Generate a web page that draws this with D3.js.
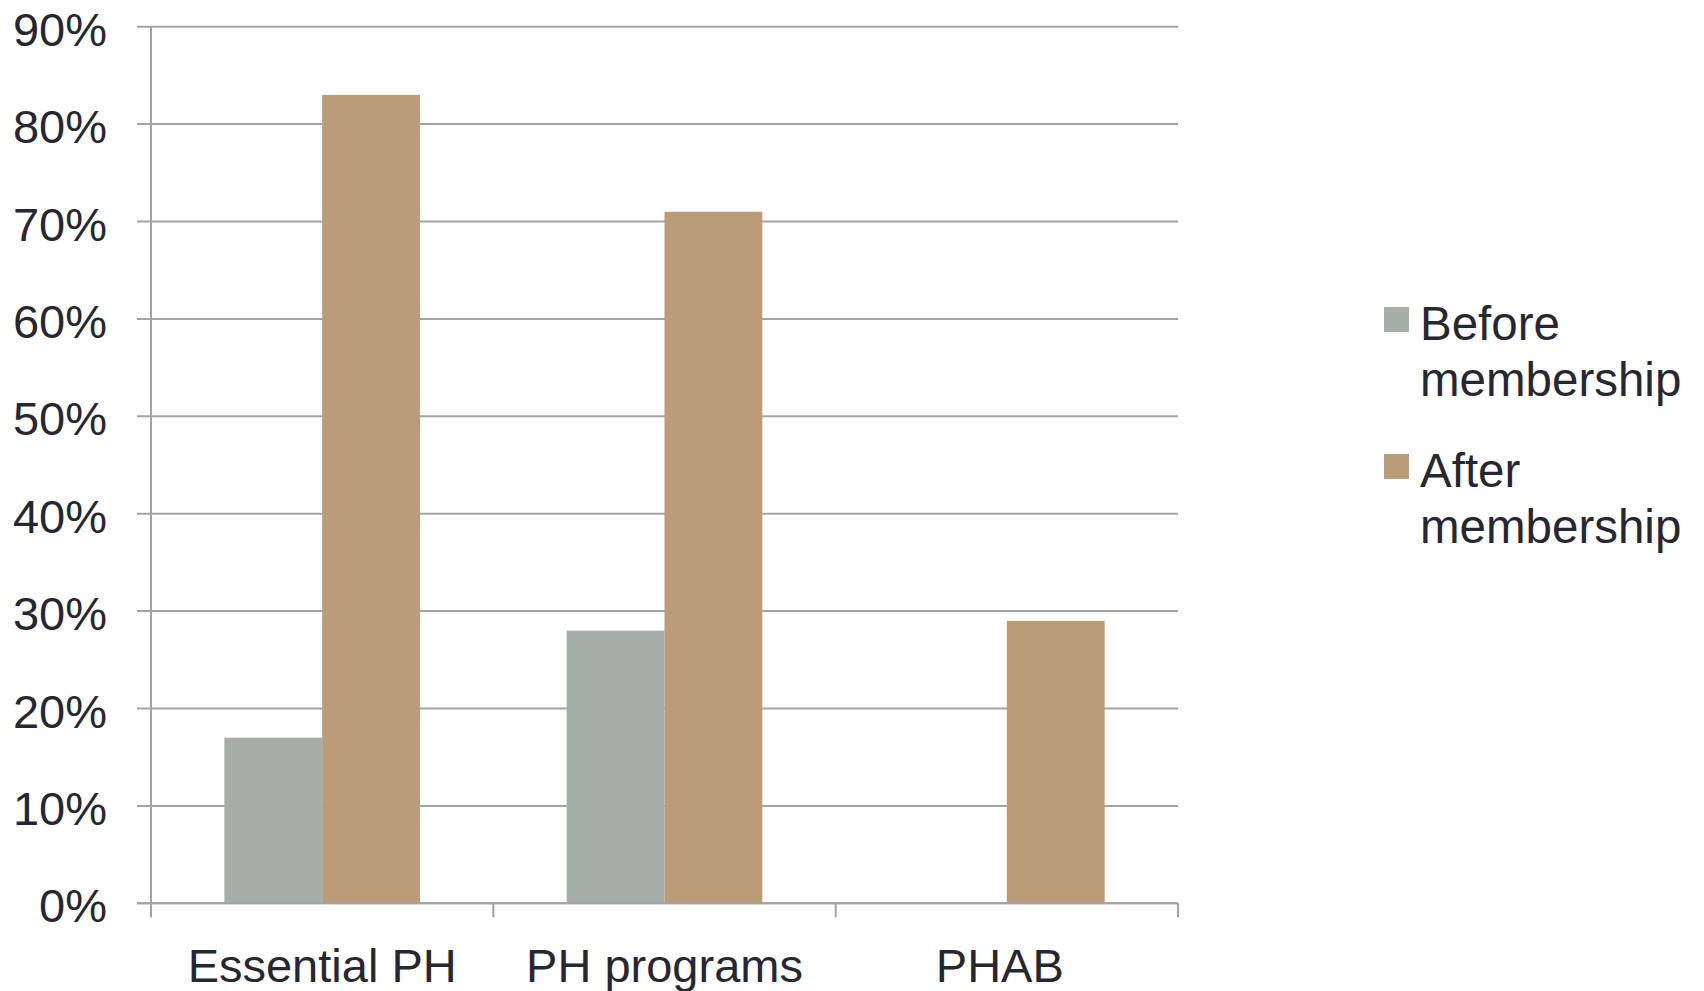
<!DOCTYPE html>
<html>
<head>
<meta charset="utf-8">
<script src="https://cdn.jsdelivr.net/npm/d3@7"></script>
<style>
  html, body { margin: 0; padding: 0; background: #ffffff; }
  svg { display: block; }
  text { font-family: "Liberation Sans", Arial, sans-serif; fill: #272731; }
</style>
</head>
<body>
<svg id="chart" width="1704" height="991"></svg>
<script>
const categories = ["Essential PH", "PH programs", "PHAB"];
const seriesNames = ["Before membership", "After membership"];
const beforeValues = [0.17, 0.28, 0];
const afterValues = [0.83, 0.71, 0.29];
const yTicks = [0, 0.1, 0.2, 0.3, 0.4, 0.5, 0.6, 0.7, 0.8, 0.9];
const seriesColors = ["#a5aea8", "#bb9c79"];

const svg = d3.select("#chart");
const plot = { left: 151, right: 1178, top: 26.7, bottom: 903.3 };

const x = d3.scaleBand().domain(categories).range([plot.left, plot.right]).padding(0);
const xInner = d3.scaleBand().domain(seriesNames).range([0, x.bandwidth()]).paddingInner(0).paddingOuter(0.75);
const y = d3.scaleLinear().domain([0, 0.9]).range([plot.bottom, plot.top]);

const gridColor = "#a3a3a3";

// gridlines + left ticks
svg.append("g")
  .selectAll("line")
  .data(yTicks)
  .join("line")
  .attr("x1", plot.left - 14)
  .attr("x2", plot.right)
  .attr("y1", d => y(d))
  .attr("y2", d => y(d))
  .attr("stroke", gridColor)
  .attr("stroke-width", 2);

// y tick labels
svg.append("g")
  .selectAll("text")
  .data(yTicks)
  .join("text")
  .attr("x", 107)
  .attr("y", d => y(d) + 19)
  .attr("text-anchor", "end")
  .attr("font-size", 47)
  .text(d3.format(".0%"));

// bars
const rows = categories.map((c, i) => ({ cat: c, vals: [beforeValues[i], afterValues[i]] }));
const groups = svg.append("g").selectAll("g")
  .data(rows)
  .join("g")
  .attr("transform", d => `translate(${x(d.cat)},0)`);
groups.selectAll("rect")
  .data(d => d.vals.map((v, k) => ({ s: seriesNames[k], v, k })))
  .join("rect")
  .attr("x", d => xInner(d.s))
  .attr("width", xInner.bandwidth())
  .attr("y", d => y(d.v))
  .attr("height", d => y(0) - y(d.v))
  .attr("fill", d => seriesColors[d.k]);

// y axis line
svg.append("line")
  .attr("x1", plot.left).attr("x2", plot.left)
  .attr("y1", plot.top).attr("y2", plot.bottom + 14)
  .attr("stroke", gridColor).attr("stroke-width", 2);

// x axis baseline + category boundary ticks
svg.append("line")
  .attr("x1", plot.left - 14).attr("x2", plot.right)
  .attr("y1", plot.bottom).attr("y2", plot.bottom)
  .attr("stroke", gridColor).attr("stroke-width", 2);
const boundaries = categories.map(c => x(c)).concat([x(categories[categories.length - 1]) + x.bandwidth()]);
svg.append("g").selectAll("line")
  .data(boundaries)
  .join("line")
  .attr("x1", d => d).attr("x2", d => d)
  .attr("y1", plot.bottom).attr("y2", plot.bottom + 14)
  .attr("stroke", gridColor).attr("stroke-width", 2);

// x labels
svg.append("g").selectAll("text")
  .data(categories)
  .join("text")
  .attr("x", d => x(d) + x.bandwidth() / 2)
  .attr("dx", (d, i) => i === categories.length - 1 ? -7 : 0)
  .attr("y", 982)
  .attr("text-anchor", "middle")
  .attr("font-size", 47)
  .text(d => d);

// legend
const legendItems = [
  { name: seriesNames[0], lines: ["Before", "membership"], color: seriesColors[0], top: 307 },
  { name: seriesNames[1], lines: ["After", "membership"], color: seriesColors[1], top: 454 }
];
const lg = svg.append("g").selectAll("g").data(legendItems).join("g");
lg.append("rect")
  .attr("x", 1384).attr("y", d => d.top)
  .attr("width", 25).attr("height", 25)
  .attr("fill", d => d.color);
lg.append("text")
  .attr("x", 1420)
  .attr("y", d => d.top + 33)
  .attr("font-size", 47.5)
  .selectAll("tspan")
  .data(d => d.lines)
  .join("tspan")
  .attr("x", 1420)
  .attr("dy", (d, i) => i === 0 ? 0 : 56)
  .text(d => d);
</script>
</body>
</html>
